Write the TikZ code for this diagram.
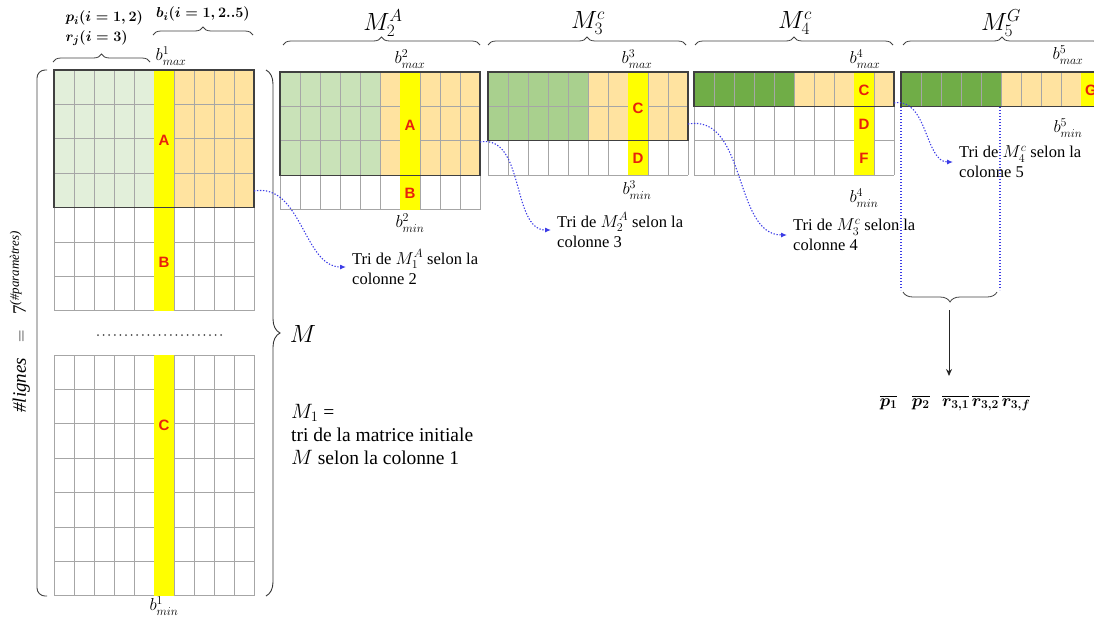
\documentclass[tikz,border=0pt]{standalone}
\usepackage{amsmath}
\usepackage{fontspec}
\setmainfont{Liberation Serif}
\newfontfamily\lettrefont{Liberation Sans}
\usetikzlibrary{decorations.pathreplacing,arrows.meta}

\definecolor{vertclair}{HTML}{E2EFDA}
\definecolor{vertmoyen}{HTML}{C9E2B8}
\definecolor{vertfonce}{HTML}{A9D08E}
\definecolor{vertsombre}{HTML}{70AD47}
\definecolor{orangec}{HTML}{FFE3A0}
\definecolor{jaune}{HTML}{FFFF00}
\definecolor{rougeL}{HTML}{E8200C}
\definecolor{bleu}{HTML}{3C3CE6}
\definecolor{trait}{HTML}{A6A6A6}

\tikzstyle{cellule}=[draw=trait,line width=0.8pt]
\tikzstyle{cadre}=[draw=black!75,line width=1.3pt]
\tikzstyle{lettre}=[text=rougeL,font=\lettrefont\bfseries\fontsize{15}{15}\selectfont]
\tikzstyle{borne}=[font=\fontsize{17.5}{18}\selectfont,inner sep=1pt]
\tikzstyle{titre}=[font=\fontsize{24}{26}\selectfont]
\tikzstyle{accolade}=[decorate,decoration={brace,amplitude=8pt},draw=black!75,line width=0.8pt]
\tikzstyle{tri}=[draw=bleu,dash pattern=on 1.3pt off 1.7pt,line width=1.1pt,-{Latex[length=6pt,width=5pt]},shorten >=6pt]
\tikzstyle{pointille}=[draw=bleu,dash pattern=on 1.3pt off 1.7pt,line width=1.1pt]
\tikzstyle{note}=[align=left,font=\fontsize{16.5}{20}\selectfont,inner sep=0pt,anchor=west]
\def\cw{20}
\def\rh{34.4}

% grille de 10 colonnes : x0, y0, lignes
\newcommand{\grille}[3]{%
  \foreach \i in {0,...,10} \draw[cellule] (#1+\i*\cw,#2) -- ++(0,#3*\rh);
  \foreach \j in {0,...,#3} \draw[cellule] (#1,#2+\j*\rh) -- ++(10*\cw,0);
}
% partie triee : x0, y0, lignes, vert
\newcommand{\bloc}[4]{%
  \fill[#4] (#1,#2) rectangle ++(5*\cw,#3*\rh);
  \fill[orangec] (#1+5*\cw,#2) rectangle ++(5*\cw,#3*\rh);
}

\begin{document}
\begin{tikzpicture}[x=1pt,y=-1pt]
\clip (0,0) rectangle (1094,619);

% matrice M
\bloc{54}{70}{4}{vertclair}
\grille{54}{70}{7}
\grille{54}{355}{7}
\fill[jaune] (154,70) rectangle ++(\cw,7*\rh);
\fill[jaune] (154,355) rectangle ++(\cw,7*\rh);
\draw[cadre] (54,70) rectangle ++(10*\cw,4*\rh);
\draw[black!70,line width=2pt,line cap=round,dash pattern=on 0pt off 5.6pt] (98,335) -- (226,335);
\node[lettre] (a1) at (164,140) {A};
\node[lettre] (b1) at (164,262) {B};
\node[lettre] (c1) at (164,425) {C};
\node[borne] (bmax1) at (171,56) {$b^1_{max}$};
\node[borne] (bmin1) at (164,606) {$b^1_{min}$};

% M2
\bloc{280}{72}{3}{vertmoyen}
\grille{280}{72}{4}
\fill[jaune] (400,72) rectangle ++(\cw,4*\rh);
\draw[cadre] (280,72) rectangle ++(10*\cw,3*\rh);
\node[lettre] (a2) at (410,125) {A};
\node[lettre] (b2) at (410,193) {B};
\node[borne] (bmax2) at (410,59) {$b^2_{max}$};
\node[borne] (bmin2) at (410,223) {$b^2_{min}$};

% M3
\bloc{488}{72}{2}{vertfonce}
\grille{488}{72}{3}
\fill[jaune] (628,72) rectangle ++(\cw,3*\rh);
\draw[cadre] (488,72) rectangle ++(10*\cw,2*\rh);
\node[lettre] (c3) at (638,108) {C};
\node[lettre] (d3) at (638,158) {D};
\node[borne] (bmax3) at (637,59) {$b^3_{max}$};
\node[borne] (bmin3) at (637,190) {$b^3_{min}$};

% M4
\bloc{694}{72}{1}{vertsombre}
\grille{694}{72}{3}
\fill[jaune] (854,72) rectangle ++(\cw,3*\rh);
\draw[cadre] (694,72) rectangle ++(10*\cw,\rh);
\node[lettre] (c4) at (864,90) {C};
\node[lettre] (d4) at (864,124) {D};
\node[lettre] (f4) at (864,158) {F};
\node[borne] (bmax4) at (865,59) {$b^4_{max}$};
\node[borne] (bmin4) at (864,198) {$b^4_{min}$};

% M5
\bloc{901}{72}{1}{vertsombre}
\grille{901}{72}{1}
\fill[jaune] (1081,72) rectangle ++(\cw,\rh);
\draw[cadre] (901,72) rectangle ++(10*\cw,\rh);
\node[lettre] (g5) at (1091,90) {G};
\node[borne] (bmax5) at (1068,55) {$b^5_{max}$};
\node[borne] (bmin5) at (1068,128) {$b^5_{min}$};

% accolades du haut
\draw[accolade] (53,62) -- (150,62);
\draw[accolade] (153,35) -- (253,35);
\node[font=\fontsize{15}{18}\selectfont,anchor=west] (pi) at (62,18) {$\boldsymbol{p_i(i=1,2)}$};
\node[font=\fontsize{15}{18}\selectfont,anchor=west] (rj) at (62,38) {$\boldsymbol{r_j(i=3)}$};
\node[font=\fontsize{15}{18}\selectfont] (bi) at (203,14) {$\boldsymbol{b_i(i=1,2..5)}$};
\draw[accolade] (283,45) -- (480,45);
\draw[accolade] (488,45) -- (686,45);
\draw[accolade] (695,45) -- (893,45);
\draw[accolade] (903,45) -- (1101,45);
\node[titre] (m2) at (383,23) {$M_2^A$};
\node[titre] (m3) at (588,23) {$M_3^c$};
\node[titre] (m4) at (795,23) {$M_4^c$};
\node[titre] (m5) at (1001,23) {$M_5^G$};

% crochet et accolade de M
\draw[black!75,line width=0.9pt,rounded corners=8pt] (47,70) -- (37,70) -- (37,596) -- (47,596);
\node[rotate=90,font=\fontsize{19}{22}\selectfont] (nblignes) at (20,322)
  {\textit{\#lignes}\;\; $=$\;\; 7\raisebox{7pt}{\fontsize{13}{13}\selectfont\itshape(\#paramètres)}};
\draw[decorate,decoration={brace,amplitude=14pt},draw=black!80,line width=0.9pt] (266,70) -- (266,596);
\node[font=\fontsize{28}{30}\selectfont] (mm) at (303,334) {$M$};
\node[note,font=\fontsize{19.5}{23}\selectfont] (m1) at (291,434)
  {$M_1$ =\\tri de la matrice initiale\\$M$ selon la colonne 1};

% tris successifs
\node[note] (t1) at (352,267) {Tri de $M_1^A$ selon la\\colonne 2};
\node[note] (t2) at (557,230) {Tri de $M_2^A$ selon la\\colonne 3};
\node[note] (t3) at (793,235) {Tri de $M_3^c$ selon la\\colonne 4};
\node[note] (t4) at (959,162) {Tri de $M_4^c$ selon la\\colonne 5};
\coordinate (s1) at (254,191);
\coordinate (s2) at (480,142);
\coordinate (s3) at (688,124);
\coordinate (s4) at (894,103);
\draw[tri] (s1) to[out=10,in=180] (t1.west);
\draw[tri] (s2) to[out=10,in=180] (t2.west);
\draw[tri] (s3) to[out=10,in=180] (t3.west);
\draw[tri] (s4) to[out=10,in=180] (t4.west);

% parametres retenus
\coordinate (v1h) at (901,107);
\coordinate (v1b) at (901,290);
\coordinate (v2h) at (1000,107);
\coordinate (v2b) at (1000,290);
\draw[pointille] (v1h) -- (v1b);
\draw[pointille] (v2h) -- (v2b);
\draw[accolade,decoration={brace,amplitude=10pt,mirror}] (903,292) -- (997,292);
\coordinate (bas) at (949,310);
\node[font=\fontsize{18}{20}\selectfont] (res) at (955,403)
  {$\overline{\boldsymbol{p_1}}$\;\; $\overline{\boldsymbol{p_2}}$\;\, $\overline{\boldsymbol{r_{3,1}}}\,\overline{\boldsymbol{r_{3,2}}}\,\overline{\boldsymbol{r_{3,f}}}$};
\coordinate (pointe) at (949,376);
\draw[black!85,line width=1pt,-{Stealth[length=7pt,width=6pt]}] (bas) -- (pointe);
\end{tikzpicture}
\end{document}
